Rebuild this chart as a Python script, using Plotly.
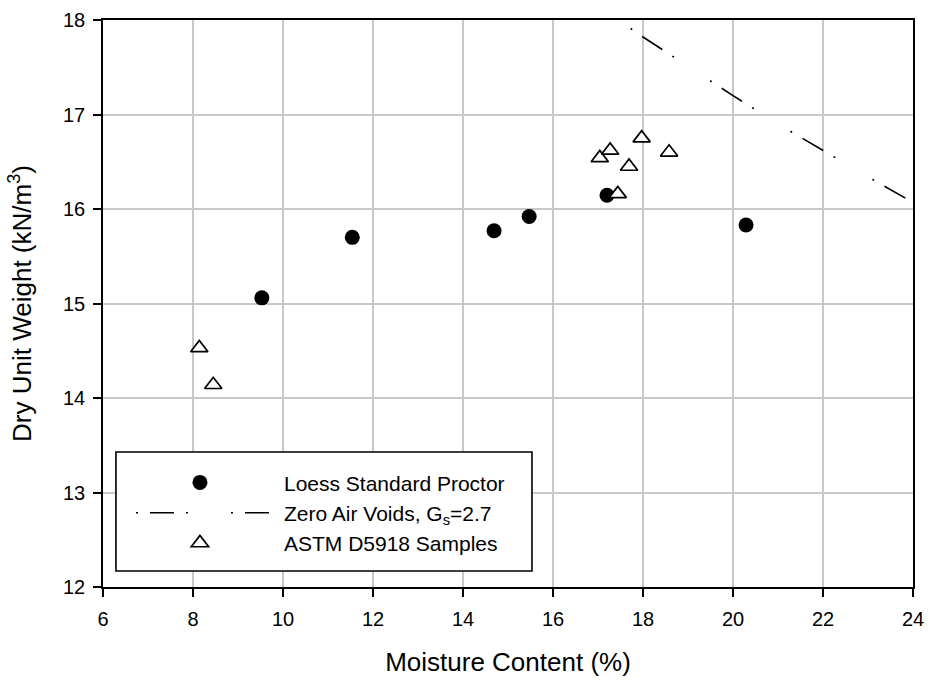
import plotly.graph_objects as go

# Loess Standard Proctor
proctor_w = [9.53, 11.54, 14.69, 15.47, 17.20, 20.29]
proctor_g = [15.06, 15.70, 15.77, 15.92, 16.145, 15.83]

# Zero air voids curve, Gs = 2.7
zav_w = [17.45, 18.0, 19.0, 20.0, 21.0, 22.0, 23.0, 24.0]
zav_g = [18.00, 17.82, 17.51, 17.20, 16.90, 16.62, 16.34, 16.07]

# ASTM D5918 samples
astm_w = [8.14, 8.45, 17.04, 17.27, 17.97, 17.69, 18.58, 17.44]
astm_g = [14.53, 14.14, 16.54, 16.62, 16.75, 16.45, 16.60, 16.16]

x_ticks = [6, 8, 10, 12, 14, 16, 18, 20, 22, 24]
y_ticks = [12, 13, 14, 15, 16, 17, 18]

FONT = "Liberation Sans, Arial, sans-serif"

fig = go.Figure()
fig.add_trace(go.Scatter(
    x=proctor_w, y=proctor_g, mode="markers", name="Loess Standard Proctor",
    marker=dict(symbol="circle", size=15, color="black", line=dict(width=0)),
))
fig.add_trace(go.Scatter(
    x=zav_w, y=zav_g, mode="lines", name="Zero Air Voids, G<sub>s</sub>=2.7",
    line=dict(color="black", width=1.6,
              dash="0px,15px,2px,12px,24px,12px,2px,28px"),
))
fig.add_trace(go.Scatter(
    x=astm_w, y=astm_g, mode="markers", name="ASTM D5918 Samples",
    marker=dict(symbol="triangle-up", size=15, color="white",
                line=dict(color="black", width=1.7)),
))

axis_common = dict(
    showline=True, linecolor="black", linewidth=1.6, mirror=True,
    ticks="outside", ticklen=8, tickwidth=1.5, tickcolor="black",
    showgrid=True, gridcolor="#c8c8c8", gridwidth=1.5,
    zeroline=False, tickfont=dict(family=FONT, size=20, color="black"),
)

fig.update_xaxes(
    range=[6, 24], tickvals=x_ticks, ticklabelstandoff=5,
    title=dict(text="Moisture Content (%)", font=dict(family=FONT, size=26, color="black"),
               standoff=24),
    **axis_common,
)
fig.update_yaxes(
    range=[12, 18], tickvals=y_ticks, ticklabelstandoff=4,
    title=dict(text="Dry Unit Weight (kN/m<sup>3</sup>)",
               font=dict(family=FONT, size=26, color="black"), standoff=24),
    **axis_common,
)

fig.add_shape(type="rect", xref="paper", yref="paper",
              x0=0.016, x1=0.5296, y0=0.0282, y1=0.238,
              line=dict(color="black", width=1.6), fillcolor="white", layer="above")

fig.update_layout(
    width=930, height=685,
    margin=dict(l=103, r=17, t=20, b=98, autoexpand=False),
    paper_bgcolor="white", plot_bgcolor="white",
    font=dict(family=FONT, color="black"),
    legend=dict(
        x=0.016, y=0.22, xanchor="left", yanchor="top",
        bgcolor="rgba(0,0,0,0)", borderwidth=0,
        font=dict(family=FONT, size=21, color="black"),
        itemwidth=158,
    ),
)

fig.write_html("out.html", config={"displayModeBar": False},
               post_script="document.body.style.margin='0';")
